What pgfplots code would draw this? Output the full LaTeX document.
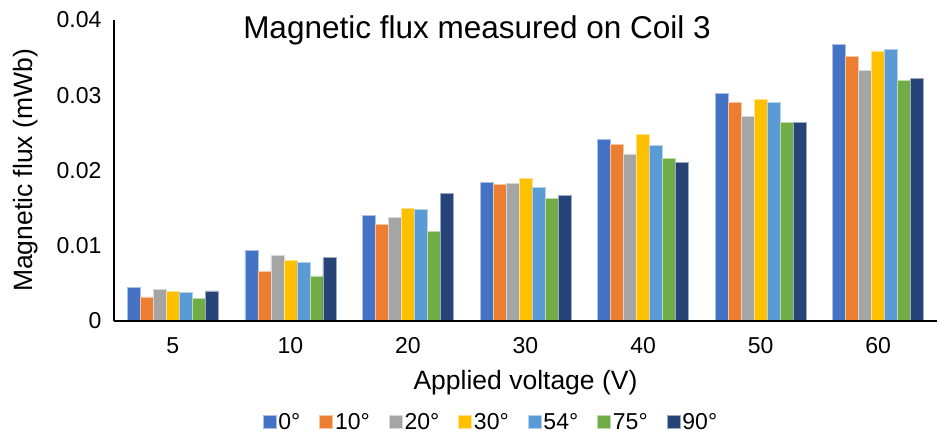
\documentclass[border=0pt]{standalone}
\usepackage{fontspec}
\setmainfont{Liberation Sans}
\usepackage{pgfplots}
\pgfplotsset{compat=1.18}

\definecolor{c0}{HTML}{4472C4}
\definecolor{c10}{HTML}{ED7D31}
\definecolor{c20}{HTML}{A5A5A5}
\definecolor{c30}{HTML}{FFC000}
\definecolor{c54}{HTML}{5B9BD5}
\definecolor{c75}{HTML}{70AD47}
\definecolor{c90}{HTML}{264478}

\pgfplotstableread{
x  a0     a10    a20    a30    a54    a75    a90
0  0.0045 0.0032 0.0042 0.0039 0.0038 0.0030 0.0040
1  0.0094 0.0066 0.0087 0.0080 0.0078 0.0060 0.0084
2  0.0140 0.0128 0.0138 0.0150 0.0148 0.0119 0.0169
3  0.0184 0.0182 0.0183 0.0190 0.0178 0.0163 0.0167
4  0.0241 0.0235 0.0222 0.0248 0.0233 0.0216 0.0211
5  0.0302 0.0291 0.0272 0.0294 0.0291 0.0264 0.0264
6  0.0368 0.0352 0.0333 0.0359 0.0361 0.0320 0.0322
}\fluxdata

\begin{document}
\begin{tikzpicture}
\useasboundingbox (0,0) rectangle (939pt,434pt);
\begin{axis}[
    at={(114pt,113pt)}, anchor=south west,
    width=823pt, height=301pt, scale only axis,
    xmin=-0.5, xmax=6.5, ymin=0, ymax=0.04,
    ybar=0pt, bar width=13pt,
    axis x line*=bottom, axis y line*=left,
    axis line style={-},
    x axis line style={line width=2pt},
    y axis line style={line width=1.2pt},
    axis on top,
    xtick={0,...,6},
    xticklabels={5,10,20,30,40,50,60},
    ytick={0,0.01,0.02,0.03,0.04},
    yticklabels={0,0.01,0.02,0.03,0.04},
    scaled y ticks=false,
    major tick length=0pt,
    /pgf/number format/assume math mode=true,
    ticklabel style={font=\fontsize{23}{27}\selectfont},
    xticklabel style={yshift=-13pt},
    yticklabel style={xshift=-9pt},
    xlabel={Applied voltage (V)},
    ylabel={Magnetic flux (mWb)},
    label style={font=\fontsize{26.5}{31}\selectfont},
    xlabel style={at={(axis description cs:0.5,-0.206)}, anchor=center},
    ylabel style={at={(axis description cs:-0.107,0.5)}, anchor=center},
    legend columns=7,
    legend style={at={(axis description cs:0.458,-0.335)}, anchor=center,
        draw=none, fill=none, inner sep=1pt, font=\fontsize{23}{25}\selectfont,
        /tikz/every even column/.append style={column sep=17pt}},
    legend cell align=left,
    legend image code/.code={\fill[#1] (0pt,-6.5pt) rectangle (13pt,6.5pt);},
]
\addplot[fill=c0,  draw=c0!45!white,  line width=0.7pt] table[x=x,y=a0]  {\fluxdata};
\addplot[fill=c10, draw=c10!45!white, line width=0.7pt] table[x=x,y=a10] {\fluxdata};
\addplot[fill=c20, draw=c20!45!white, line width=0.7pt] table[x=x,y=a20] {\fluxdata};
\addplot[fill=c30, draw=c30!45!white, line width=0.7pt] table[x=x,y=a30] {\fluxdata};
\addplot[fill=c54, draw=c54!45!white, line width=0.7pt] table[x=x,y=a54] {\fluxdata};
\addplot[fill=c75, draw=c75!45!white, line width=0.7pt] table[x=x,y=a75] {\fluxdata};
\addplot[fill=c90, draw=c90!45!white, line width=0.7pt] table[x=x,y=a90] {\fluxdata};
\legend{0°,10°,20°,30°,54°,75°,90°}
\end{axis}
\node[anchor=base, font=\fontsize{31.5}{36}\selectfont] at (477pt,395pt) {Magnetic flux measured on Coil 3};
\end{tikzpicture}
\end{document}
